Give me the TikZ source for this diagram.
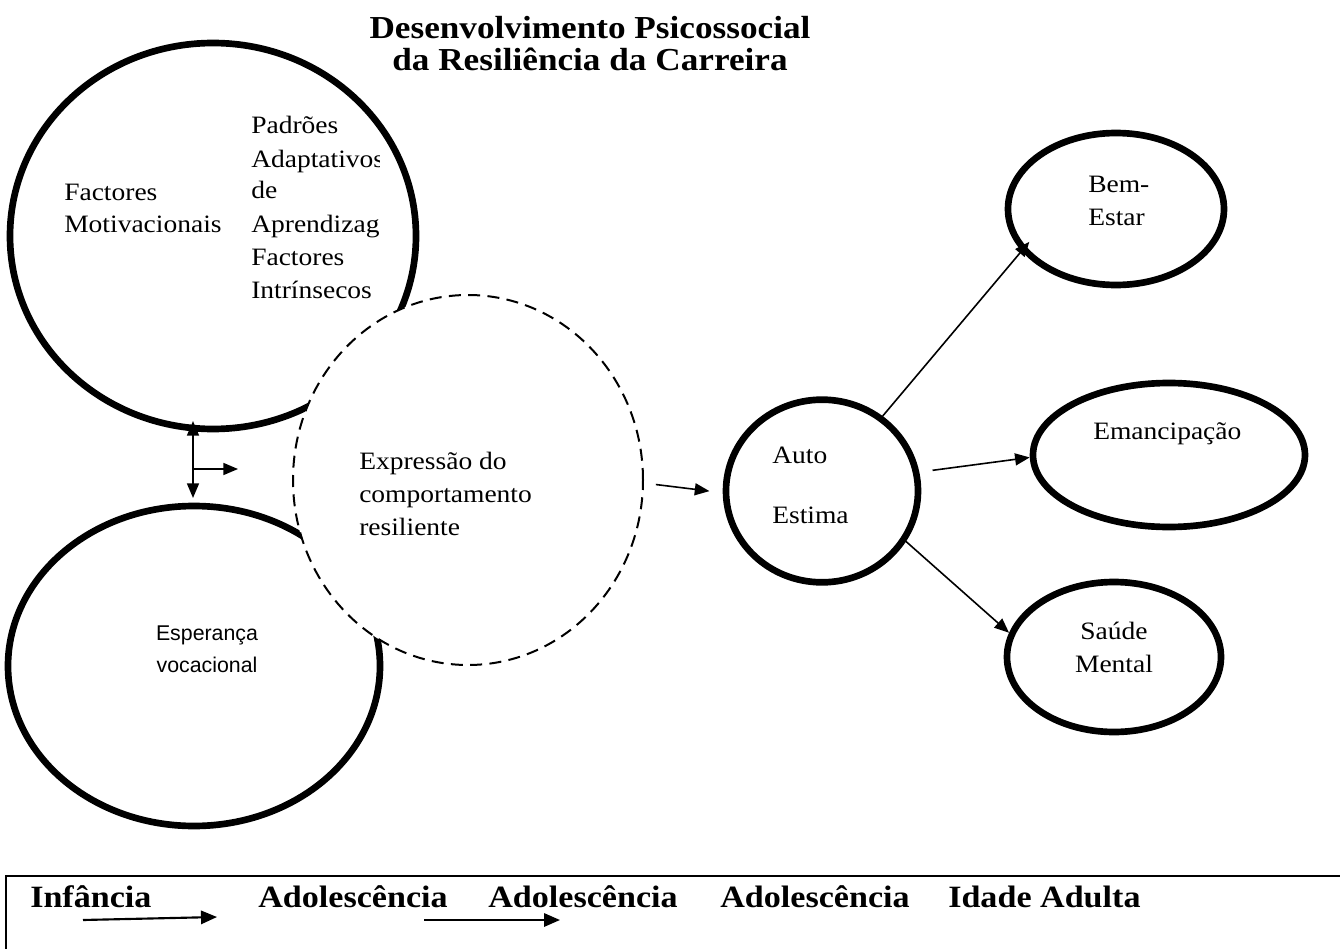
\documentclass[tikz,border=0pt]{standalone}
\usepackage{fontspec}
\setmainfont{Liberation Serif}[FakeStretch=1.1]
\newfontfamily\arialf{Liberation Sans}
\usetikzlibrary{shapes.geometric,arrows.meta}
\tikzset{
  body/.style={anchor=base west, inner sep=0pt, font=\fontsize{18.75pt}{24pt}\selectfont},
  bodyc/.style={body, anchor=base},
  head/.style={anchor=base, inner sep=0pt, font=\fontsize{24pt}{28pt}\selectfont\bfseries},
  stage/.style={anchor=base west, inner sep=0pt, font=\fontsize{23.25pt}{28pt}\selectfont\bfseries},
  sans/.style={anchor=base, inner sep=0pt, font=\arialf\fontsize{16pt}{20pt}\selectfont},
  oval/.style={draw, ellipse, line width=5pt, inner sep=0pt},
  dashoval/.style={draw, ellipse, line width=1.5pt, dash pattern=on 9pt off 5.5pt, fill=white, inner sep=0pt},
  arr/.style={line width=1.2pt, -{Triangle[length=11pt,width=9pt]}},
  dblarr/.style={line width=1.3pt, {Triangle[length=11pt,width=9pt]}-{Triangle[length=11pt,width=9pt]}},
  stagearr/.style={line width=1.6pt, -{Triangle[length=12pt,width=10pt]}},
  boxline/.style={line width=1.6pt},
}
\begin{document}
\begin{tikzpicture}[x=0.75pt,y=-0.75pt]
\useasboundingbox (0,0) rectangle (1340,949);
\fill[white] (0,0) rectangle (1340,949);

% shapes
\node[oval, minimum width=304.5pt, minimum height=289.5pt] (motiv) at (213,236) {};
\node[oval, minimum width=279pt, minimum height=240pt] (esper) at (194,666) {};
\node[dashoval, minimum width=262.5pt, minimum height=277.5pt] (expr) at (468,480) {};
\node[oval, minimum width=144pt, minimum height=137pt] (auto) at (822,491) {};
\node[oval, minimum width=162pt, minimum height=114pt] (bem) at (1116,209) {};
\node[oval, minimum width=204pt, minimum height=108pt] (eman) at (1169,455) {};
\node[oval, minimum width=160.5pt, minimum height=112.5pt] (saude) at (1114,657) {};

% title
\node[head] (title1) at (590,39) {Desenvolvimento Psicossocial};
\node[head] (title2) at (590,71) {da Resiliência da Carreira};

% texts
\node[body] (fm1) at (64,200) {Factores};
\node[body] (fm2) at (64,232) {Motivacionais};

\begin{scope}
\clip (240,100) rectangle (379,310);
\node[body] (pa1) at (251,134) {Padrões};
\node[body] (pa2) at (251,167) {Adaptativos};
\node[body] (pa3) at (251,199) {de};
\node[body] (pa4) at (251,232) {Aprendizagem};
\node[body] (pa5) at (251,265) {Factores};
\node[body] (pa6) at (251,298) {Intrínsecos};
\end{scope}

\node[body] (ex1) at (359,469) {Expressão do};
\node[body] (ex2) at (359,502) {comportamento};
\node[body] (ex3) at (359,535) {resiliente};

\node[body] (au1) at (772,463) {Auto};
\node[body] (au2) at (772,523) {Estima};

\node[body] (be1) at (1088,192) {Bem-};
\node[body] (be2) at (1088,225) {Estar};

\node[body] (em1) at (1093,439) {Emancipação};

\node[bodyc] (sa1) at (1114,639) {Saúde};
\node[bodyc] (sa2) at (1114,672) {Mental};

\node[sans] (es1) at (207,640) {Esperança};
\node[sans] (es2) at (207,672) {vocacional};

% connectors
\coordinate (vtop) at (193,421);
\coordinate (vbot) at (193,498);
\coordinate (vmid) at (193,469);
\coordinate (hend) at (238,469);
\draw[dblarr] (vtop) -- (vbot);
\draw[arr] (vmid) -- (hend);
\draw[arr, shorten <=9pt, shorten >=10pt] (expr.-1) -- (auto.181);
\draw[arr, shorten >=-9pt] (auto.51) -- (bem.204);
\draw[arr, shorten <=10pt] (auto.11) -- (eman.181);
\draw[arr] (auto.-31) -- (saude.167);

% bottom band
\coordinate (boxbl) at (6,952);
\coordinate (boxtl) at (6,876);
\coordinate (boxtr) at (1345,876);
\draw[boxline] (boxbl) -- (boxtl) -- (boxtr);

\node[stage] (st1) at (30,907) {Infância};
\node[stage] (st2) at (258,907) {Adolescência};
\node[stage] (st3) at (488,907) {Adolescência};
\node[stage] (st4) at (720,907) {Adolescência};
\node[stage] (st5) at (948,907) {Idade Adulta};

\coordinate (a1s) at (83,920);
\coordinate (a1e) at (217,917);
\coordinate (a2s) at (424,920);
\coordinate (a2e) at (560,920);
\draw[stagearr] (a1s) -- (a1e);
\draw[stagearr] (a2s) -- (a2e);
\end{tikzpicture}
\end{document}
